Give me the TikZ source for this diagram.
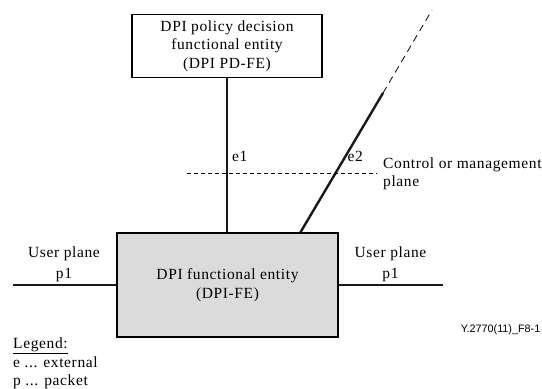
\documentclass[tikz,border=0pt]{standalone}
\usepackage{fontspec}
\setmainfont{Liberation Serif}[LetterSpace=4]
\newfontfamily\labelsans{Liberation Sans}
\begin{document}
\begin{tikzpicture}[x=1pt,y=-1pt,
  every node/.style={font=\fontsize{15.5}{18.5}\selectfont, inner sep=0pt},
  entbox/.style={draw=black, line width=1.2pt, align=center},
  link/.style={line width=2.4pt, draw=black!90},
  ctrl/.style={line width=0.8pt, dash pattern=on 4pt off 3pt},
  ext/.style={line width=0.8pt, dash pattern=on 7pt off 5pt},
  lbl/.style={align=center}]
\useasboundingbox (0,0) rectangle (542,389);
% entities
\node[entbox, minimum width=190pt, minimum height=63pt] (pd) at (227,46.2)
  {DPI policy decision\\functional entity\\(DPI PD-FE)};
\node[entbox, fill=black!14, minimum width=221pt, minimum height=104pt] (fe) at (227.5,285)
  {DPI functional entity\\[1pt](DPI-FE)};
% coordinates
\coordinate (ul) at (13,285);
\coordinate (ur) at (443,285);
\coordinate (e2s) at (383,93);
\coordinate (e2d) at (432,10);
\path (fe.north west) ++(184,0) coordinate (e2b);
\coordinate (cl) at (187,173);
\coordinate (cr) at (377,173);
% connectors
\draw[link] (pd.south) -- (pd.south |- fe.north);
\draw[link] (ul) -- (fe.west);
\draw[link] (fe.east) -- (ur);
\draw[link] (e2b) -- (e2s);
\draw[ext] (e2s) -- (e2d);
\draw[ctrl] (cl) -- (cr);
% labels
\node[anchor=west] (le1) at (232,156) {e1};
\node[anchor=west] (le2) at (347.5,156) {e2};
\node[anchor=west, align=left] (lcp) at (383,174) {Control or management\\plane};
\node[lbl] (lup) at (64,264.5) {User plane\\[3pt]p1};
\node[lbl] (rup) at (390.5,264.5) {User plane\\[3pt]p1};
\node[anchor=west, align=left] (leg) at (13,363.5) {\underline{Legend:}\\e ... external\\p ... packet};
\node[anchor=east, font=\labelsans\fontsize{10.8}{13}\selectfont] (fig) at (540.5,330) {Y.2770(11)\_F8-1};
\end{tikzpicture}
\end{document}
